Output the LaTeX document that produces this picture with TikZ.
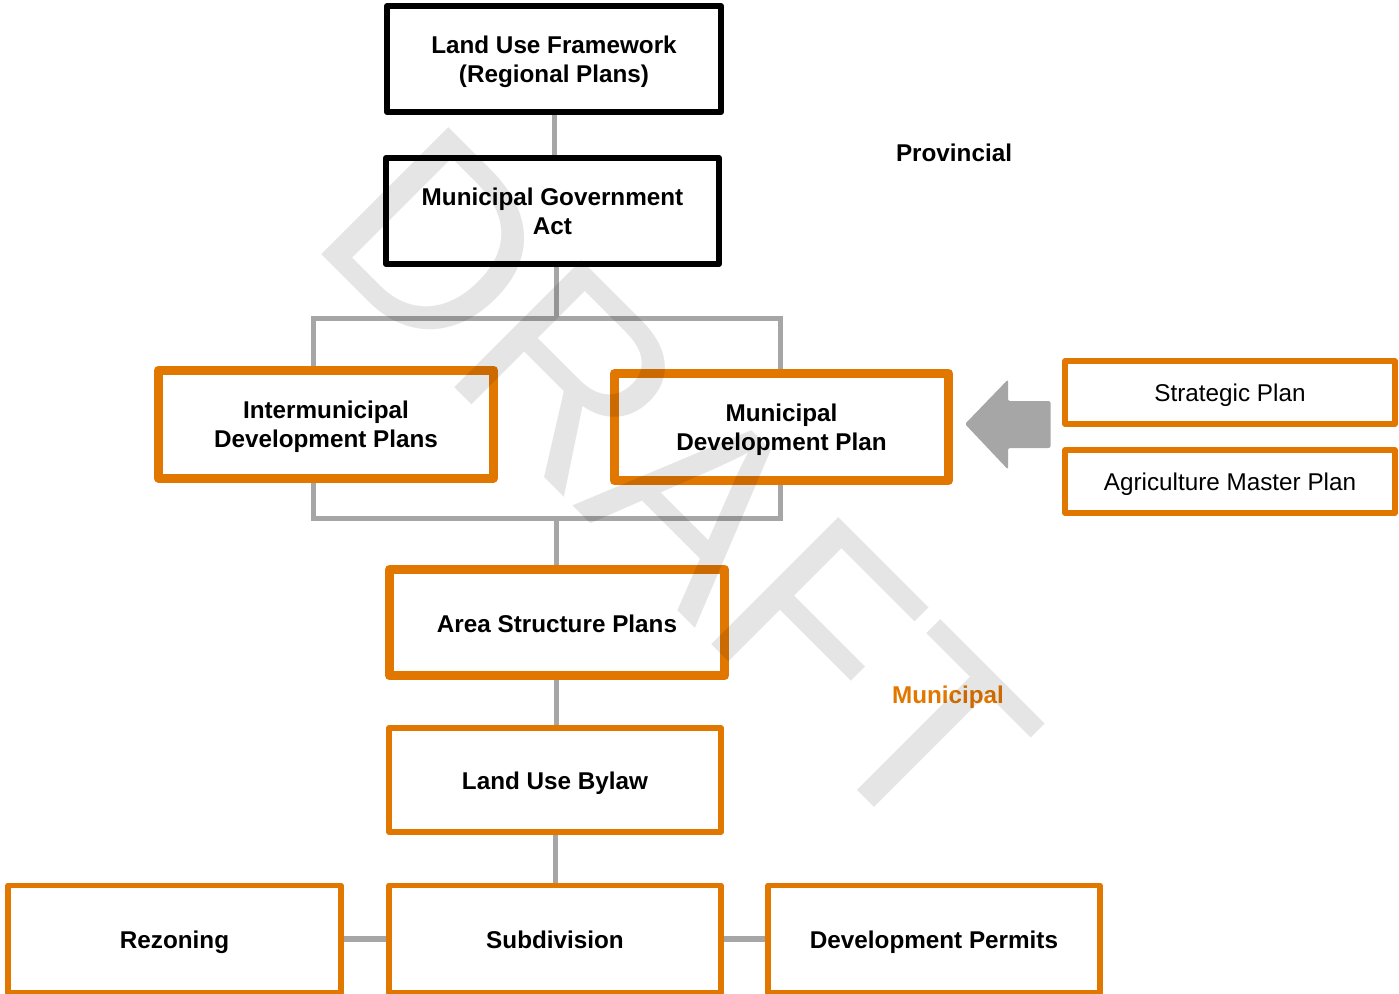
\documentclass[tikz,border=0pt]{standalone}
\usepackage{fontspec}
\setmainfont{Liberation Sans}
\usetikzlibrary{backgrounds,calc}
\definecolor{orng}{RGB}{226,119,0}
\definecolor{lgray}{RGB}{166,166,166}
\newcommand{\boxfont}{\fontsize{18.2}{21.8}\selectfont}
\newcommand{\bt}[1]{\raisebox{-2.7pt}[\height][\depth]{\begin{tabular}{@{}c@{}}#1\end{tabular}}}
\begin{document}
\begin{tikzpicture}[x=0.75pt,y=-0.75pt,
  box/.style={draw, fill=white, inner sep=0pt, outer sep=0pt, align=center, line join=round, font=\boxfont},
  blk/.style={box, draw=black, line width=4.5pt, font=\boxfont\bfseries},
  thk/.style={box, draw=orng, line width=6.75pt, font=\boxfont\bfseries},
  thn/.style={box, draw=orng, line width=4.2pt},
  bld/.style={font=\boxfont\bfseries},
  wh/.style 2 args={minimum width={#1*0.75pt}, minimum height={#2*0.75pt}},
  conn/.style={draw=lgray, line width=3.75pt},
  lbl/.style={font=\boxfont\bfseries, inner sep=0pt}]
\useasboundingbox (0,0) rectangle (1399,993);

% boxes
\node[blk, wh={334}{106}] (luf) at (554,59) {\bt{Land Use Framework\\(Regional Plans)}};
\node[blk, wh={333}{106}] (mga) at (552.5,211) {\bt{Municipal Government\\Act}};
\node[thk, wh={335}{108}] (idp) at (326,424) {\bt{Intermunicipal\\Development Plans}};
\node[thk, wh={334}{107}] (mdp) at (781.5,427) {\bt{Municipal\\Development Plan}};
\node[thn, wh={330}{63}] (sp) at (1230,392.5) {\bt{Strategic Plan}};
\node[thn, wh={330}{63}] (amp) at (1230,481.5) {\bt{Agriculture Master Plan}};
\node[thk, wh={335}{106.5}] (asp) at (557,622.7) {\bt{Area Structure Plans}};
\node[thn, bld, wh={332}{104}] (lub) at (555,780) {\bt{Land Use Bylaw}};
\node[thn, bld, wh={333}{107.5}] (rez) at (174.5,939.25) {\bt{Rezoning}};
\node[thn, bld, wh={332}{107.5}] (sub) at (555,939.25) {\bt{Subdivision}};
\node[thn, bld, wh={332}{107.5}] (dp) at (934,939.25) {\bt{Development Permits}};

% labels
\node[lbl] (prov) at (954,153) {Provincial};
\node[lbl, text=orng] (muni) at (948,697) {Municipal};

% connectors
\begin{scope}[on background layer]
  \coordinate (bt) at (556,318);
  \coordinate (bl) at (313.7,318);
  \coordinate (bbr) at (780,518.5);
  \coordinate (bb) at (556,518.5);
  \draw[conn] (luf.south) -- (luf.south |- mga.north);
  \draw[conn] (mga.south -| bt) -- (bt);
  \draw[conn] (bl) rectangle (bbr);
  \draw[conn] (bb) -- (bb |- asp.north);
  \draw[conn] (asp.south -| bb) -- (lub.north -| bb);
  \draw[conn] (lub.south) -- (sub.north);
  \draw[conn, line width=4.5pt] (rez.east) -- (sub.west);
  \draw[conn, line width=4.5pt] (sub.east) -- (dp.west);
\end{scope}

% block arrow
\fill[lgray, rounded corners=1.5pt] (965,424) -- (1008,379.5) -- (1008,401) -- (1050.5,401)
  -- (1050.5,448) -- (1008,448) -- (1008,469.5) -- cycle;

% watermark
\node[rotate=-45, anchor=base, inner sep=0pt, font=\fontsize{196}{196}\selectfont,
  text=black, text opacity=0.1] (wm) at (614,547) {DRAFT};
\end{tikzpicture}
\end{document}
